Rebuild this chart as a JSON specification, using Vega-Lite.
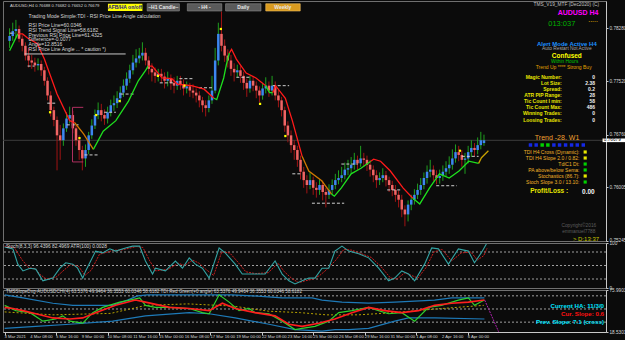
{
"$schema": "https://vega.github.io/schema/vega-lite/v6.json",
"padding": 0,
"spacing": 2,
"bounds": "flush",
"background": "#0b0b0b",
"config": {
  "font": "Liberation Sans",
  "view": {"stroke": "#707070", "fill": "#0b0b0b"},
  "axis": {"labelColor": "#d8d8d8", "labelFontSize": 4.7, "labelFont": "Liberation Sans", "tickColor": "#c8c8c8", "domainColor": "#c8c8c8", "grid": false, "title": null, "tickSize": 2, "labelPadding": 1, "labelOverlap": false}
},
"datasets": {
  "candles": [
{"i":0,"o":0.7810,"h":0.7828,"l":0.7800,"c":0.7817},
{"i":1,"o":0.7817,"h":0.7836,"l":0.7810,"c":0.7824},
{"i":2,"o":0.7824,"h":0.7840,"l":0.7815,"c":0.7827},
{"i":3,"o":0.7827,"h":0.7832,"l":0.7808,"c":0.7813},
{"i":4,"o":0.7813,"h":0.7818,"l":0.7795,"c":0.7803},
{"i":5,"o":0.7803,"h":0.7808,"l":0.7782,"c":0.7789},
{"i":6,"o":0.7789,"h":0.7800,"l":0.7772,"c":0.7782},
{"i":7,"o":0.7782,"h":0.7790,"l":0.7770,"c":0.7779},
{"i":8,"o":0.7779,"h":0.7786,"l":0.7766,"c":0.7775},
{"i":9,"o":0.7775,"h":0.7785,"l":0.7768,"c":0.7777},
{"i":10,"o":0.7777,"h":0.7782,"l":0.7760,"c":0.7768},
{"i":11,"o":0.7768,"h":0.7773,"l":0.7746,"c":0.7753},
{"i":12,"o":0.7753,"h":0.7758,"l":0.7725,"c":0.7732},
{"i":13,"o":0.7732,"h":0.7738,"l":0.7702,"c":0.7711},
{"i":14,"o":0.7711,"h":0.7716,"l":0.7688,"c":0.7697},
{"i":15,"o":0.7697,"h":0.7702,"l":0.7625,"c":0.7675},
{"i":16,"o":0.7675,"h":0.7690,"l":0.7640,"c":0.7668},
{"i":17,"o":0.7668,"h":0.7692,"l":0.7660,"c":0.7685},
{"i":18,"o":0.7685,"h":0.7708,"l":0.7680,"c":0.7699},
{"i":19,"o":0.7699,"h":0.7716,"l":0.7692,"c":0.7704},
{"i":20,"o":0.7704,"h":0.7710,"l":0.7678,"c":0.7685},
{"i":21,"o":0.7685,"h":0.7690,"l":0.7660,"c":0.7668},
{"i":22,"o":0.7668,"h":0.7675,"l":0.7640,"c":0.7654},
{"i":23,"o":0.7654,"h":0.7660,"l":0.7625,"c":0.7642},
{"i":24,"o":0.7642,"h":0.7662,"l":0.7630,"c":0.7654},
{"i":25,"o":0.7654,"h":0.7680,"l":0.7648,"c":0.7675},
{"i":26,"o":0.7675,"h":0.7698,"l":0.7670,"c":0.7689},
{"i":27,"o":0.7689,"h":0.7712,"l":0.7684,"c":0.7704},
{"i":28,"o":0.7704,"h":0.7722,"l":0.7698,"c":0.7711},
{"i":29,"o":0.7711,"h":0.7720,"l":0.7695,"c":0.7704},
{"i":30,"o":0.7704,"h":0.7712,"l":0.7690,"c":0.7699},
{"i":31,"o":0.7699,"h":0.7716,"l":0.7692,"c":0.7708},
{"i":32,"o":0.7708,"h":0.7726,"l":0.7702,"c":0.7718},
{"i":33,"o":0.7718,"h":0.7732,"l":0.7710,"c":0.7721},
{"i":34,"o":0.7721,"h":0.7738,"l":0.7714,"c":0.7728},
{"i":35,"o":0.7728,"h":0.7745,"l":0.7722,"c":0.7736},
{"i":36,"o":0.7736,"h":0.7755,"l":0.7730,"c":0.7746},
{"i":37,"o":0.7746,"h":0.7765,"l":0.7740,"c":0.7756},
{"i":38,"o":0.7756,"h":0.7776,"l":0.7750,"c":0.7768},
{"i":39,"o":0.7768,"h":0.7790,"l":0.7762,"c":0.7779},
{"i":40,"o":0.7779,"h":0.7798,"l":0.7772,"c":0.7785},
{"i":41,"o":0.7785,"h":0.7800,"l":0.7778,"c":0.7789},
{"i":42,"o":0.7789,"h":0.7808,"l":0.7782,"c":0.7793},
{"i":43,"o":0.7793,"h":0.7800,"l":0.7775,"c":0.7782},
{"i":44,"o":0.7782,"h":0.7788,"l":0.7762,"c":0.7770},
{"i":45,"o":0.7770,"h":0.7778,"l":0.7752,"c":0.7765},
{"i":46,"o":0.7765,"h":0.7772,"l":0.7750,"c":0.7760},
{"i":47,"o":0.7760,"h":0.7770,"l":0.7752,"c":0.7763},
{"i":48,"o":0.7763,"h":0.7770,"l":0.7750,"c":0.7759},
{"i":49,"o":0.7759,"h":0.7765,"l":0.7742,"c":0.7753},
{"i":50,"o":0.7753,"h":0.7766,"l":0.7745,"c":0.7756},
{"i":51,"o":0.7756,"h":0.7762,"l":0.7740,"c":0.7750},
{"i":52,"o":0.7750,"h":0.7758,"l":0.7735,"c":0.7746},
{"i":53,"o":0.7746,"h":0.7760,"l":0.7740,"c":0.7753},
{"i":54,"o":0.7753,"h":0.7760,"l":0.7740,"c":0.7748},
{"i":55,"o":0.7748,"h":0.7755,"l":0.7732,"c":0.7742},
{"i":56,"o":0.7742,"h":0.7752,"l":0.7735,"c":0.7745},
{"i":57,"o":0.7745,"h":0.7750,"l":0.7730,"c":0.7739},
{"i":58,"o":0.7739,"h":0.7748,"l":0.7728,"c":0.7736},
{"i":59,"o":0.7736,"h":0.7742,"l":0.7722,"c":0.7732},
{"i":60,"o":0.7732,"h":0.7738,"l":0.7715,"c":0.7725},
{"i":61,"o":0.7725,"h":0.7730,"l":0.7708,"c":0.7718},
{"i":62,"o":0.7718,"h":0.7725,"l":0.7702,"c":0.7714},
{"i":63,"o":0.7714,"h":0.7732,"l":0.7708,"c":0.7725},
{"i":64,"o":0.7725,"h":0.7760,"l":0.7720,"c":0.7739},
{"i":65,"o":0.7739,"h":0.7800,"l":0.7735,"c":0.7782},
{"i":66,"o":0.7782,"h":0.7836,"l":0.7775,"c":0.7820},
{"i":67,"o":0.7820,"h":0.7852,"l":0.7795,"c":0.7803},
{"i":68,"o":0.7803,"h":0.7812,"l":0.7780,"c":0.7789},
{"i":69,"o":0.7789,"h":0.7798,"l":0.7772,"c":0.7782},
{"i":70,"o":0.7782,"h":0.7790,"l":0.7760,"c":0.7770},
{"i":71,"o":0.7770,"h":0.7778,"l":0.7752,"c":0.7765},
{"i":72,"o":0.7765,"h":0.7776,"l":0.7758,"c":0.7768},
{"i":73,"o":0.7768,"h":0.7774,"l":0.7750,"c":0.7760},
{"i":74,"o":0.7760,"h":0.7766,"l":0.7740,"c":0.7750},
{"i":75,"o":0.7750,"h":0.7756,"l":0.7730,"c":0.7742},
{"i":76,"o":0.7742,"h":0.7760,"l":0.7736,"c":0.7753},
{"i":77,"o":0.7753,"h":0.7760,"l":0.7738,"c":0.7746},
{"i":78,"o":0.7746,"h":0.7752,"l":0.7728,"c":0.7739},
{"i":79,"o":0.7739,"h":0.7745,"l":0.7722,"c":0.7732},
{"i":80,"o":0.7732,"h":0.7750,"l":0.7726,"c":0.7742},
{"i":81,"o":0.7742,"h":0.7758,"l":0.7735,"c":0.7746},
{"i":82,"o":0.7746,"h":0.7752,"l":0.7730,"c":0.7739},
{"i":83,"o":0.7739,"h":0.7760,"l":0.7732,"c":0.7746},
{"i":84,"o":0.7746,"h":0.7752,"l":0.7725,"c":0.7732},
{"i":85,"o":0.7732,"h":0.7740,"l":0.7715,"c":0.7725},
{"i":86,"o":0.7725,"h":0.7730,"l":0.7702,"c":0.7711},
{"i":87,"o":0.7711,"h":0.7716,"l":0.7680,"c":0.7689},
{"i":88,"o":0.7689,"h":0.7695,"l":0.7665,"c":0.7675},
{"i":89,"o":0.7675,"h":0.7682,"l":0.7650,"c":0.7661},
{"i":90,"o":0.7661,"h":0.7668,"l":0.7640,"c":0.7654},
{"i":91,"o":0.7654,"h":0.7660,"l":0.7630,"c":0.7640},
{"i":92,"o":0.7640,"h":0.7646,"l":0.7612,"c":0.7623},
{"i":93,"o":0.7623,"h":0.7630,"l":0.7600,"c":0.7611},
{"i":94,"o":0.7611,"h":0.7618,"l":0.7592,"c":0.7604},
{"i":95,"o":0.7604,"h":0.7622,"l":0.7598,"c":0.7611},
{"i":96,"o":0.7611,"h":0.7616,"l":0.7590,"c":0.7600},
{"i":97,"o":0.7600,"h":0.7608,"l":0.7586,"c":0.7597},
{"i":98,"o":0.7597,"h":0.7612,"l":0.7590,"c":0.7604},
{"i":99,"o":0.7604,"h":0.7610,"l":0.7582,"c":0.7594},
{"i":100,"o":0.7594,"h":0.7600,"l":0.7572,"c":0.7590},
{"i":101,"o":0.7590,"h":0.7605,"l":0.7584,"c":0.7597},
{"i":102,"o":0.7597,"h":0.7612,"l":0.7590,"c":0.7604},
{"i":103,"o":0.7604,"h":0.7620,"l":0.7598,"c":0.7611},
{"i":104,"o":0.7611,"h":0.7625,"l":0.7605,"c":0.7614},
{"i":105,"o":0.7614,"h":0.7630,"l":0.7608,"c":0.7618},
{"i":106,"o":0.7618,"h":0.7636,"l":0.7612,"c":0.7626},
{"i":107,"o":0.7626,"h":0.7640,"l":0.7618,"c":0.7628},
{"i":108,"o":0.7628,"h":0.7644,"l":0.7620,"c":0.7633},
{"i":109,"o":0.7633,"h":0.7650,"l":0.7626,"c":0.7640},
{"i":110,"o":0.7640,"h":0.7646,"l":0.7626,"c":0.7635},
{"i":111,"o":0.7635,"h":0.7660,"l":0.7630,"c":0.7642},
{"i":112,"o":0.7642,"h":0.7650,"l":0.7630,"c":0.7640},
{"i":113,"o":0.7640,"h":0.7646,"l":0.7624,"c":0.7633},
{"i":114,"o":0.7633,"h":0.7640,"l":0.7616,"c":0.7626},
{"i":115,"o":0.7626,"h":0.7632,"l":0.7608,"c":0.7618},
{"i":116,"o":0.7618,"h":0.7625,"l":0.7600,"c":0.7611},
{"i":117,"o":0.7611,"h":0.7622,"l":0.7604,"c":0.7614},
{"i":118,"o":0.7614,"h":0.7628,"l":0.7608,"c":0.7618},
{"i":119,"o":0.7618,"h":0.7624,"l":0.7602,"c":0.7611},
{"i":120,"o":0.7611,"h":0.7616,"l":0.7594,"c":0.7604},
{"i":121,"o":0.7604,"h":0.7610,"l":0.7588,"c":0.7597},
{"i":122,"o":0.7597,"h":0.7604,"l":0.7580,"c":0.7590},
{"i":123,"o":0.7590,"h":0.7596,"l":0.7572,"c":0.7583},
{"i":124,"o":0.7583,"h":0.7590,"l":0.7558,"c":0.7569},
{"i":125,"o":0.7569,"h":0.7575,"l":0.7545,"c":0.7562},
{"i":126,"o":0.7562,"h":0.7582,"l":0.7552,"c":0.7576},
{"i":127,"o":0.7576,"h":0.7590,"l":0.7568,"c":0.7583},
{"i":128,"o":0.7583,"h":0.7598,"l":0.7576,"c":0.7590},
{"i":129,"o":0.7590,"h":0.7606,"l":0.7584,"c":0.7597},
{"i":130,"o":0.7597,"h":0.7614,"l":0.7590,"c":0.7604},
{"i":131,"o":0.7604,"h":0.7622,"l":0.7598,"c":0.7614},
{"i":132,"o":0.7614,"h":0.7632,"l":0.7606,"c":0.7623},
{"i":133,"o":0.7623,"h":0.7640,"l":0.7615,"c":0.7626},
{"i":134,"o":0.7626,"h":0.7632,"l":0.7610,"c":0.7618},
{"i":135,"o":0.7618,"h":0.7625,"l":0.7605,"c":0.7614},
{"i":136,"o":0.7614,"h":0.7626,"l":0.7606,"c":0.7617},
{"i":137,"o":0.7617,"h":0.7632,"l":0.7610,"c":0.7623},
{"i":138,"o":0.7623,"h":0.7638,"l":0.7616,"c":0.7628},
{"i":139,"o":0.7628,"h":0.7645,"l":0.7620,"c":0.7633},
{"i":140,"o":0.7633,"h":0.7655,"l":0.7626,"c":0.7642},
{"i":141,"o":0.7642,"h":0.7662,"l":0.7636,"c":0.7651},
{"i":142,"o":0.7651,"h":0.7660,"l":0.7638,"c":0.7647},
{"i":143,"o":0.7647,"h":0.7654,"l":0.7630,"c":0.7640},
{"i":144,"o":0.7640,"h":0.7650,"l":0.7620,"c":0.7642},
{"i":145,"o":0.7642,"h":0.7660,"l":0.7635,"c":0.7651},
{"i":146,"o":0.7651,"h":0.7668,"l":0.7644,"c":0.7657},
{"i":147,"o":0.7657,"h":0.7664,"l":0.7645,"c":0.7654},
{"i":148,"o":0.7654,"h":0.7672,"l":0.7648,"c":0.7661},
{"i":149,"o":0.7661,"h":0.7680,"l":0.7655,"c":0.7668},
{"i":150,"o":0.7664,"h":0.7676,"l":0.7660,"c":0.76679}
  ],
  "ma": [
{"s":1,"k":"up","i":0,"p":0.7796},{"s":1,"k":"up","i":2.6,"p":0.7820},
{"s":2,"k":"down","i":2.6,"p":0.7820},{"s":2,"k":"down","i":4.1,"p":0.7820},{"s":2,"k":"down","i":5.7,"p":0.7814},{"s":2,"k":"down","i":8.8,"p":0.7806},{"s":2,"k":"down","i":11.0,"p":0.7784},{"s":2,"k":"down","i":15.0,"p":0.7734},{"s":2,"k":"down","i":19.0,"p":0.7696},{"s":2,"k":"down","i":20.6,"p":0.7693},
{"s":3,"k":"flat","i":20.6,"p":0.7693},{"s":3,"k":"flat","i":23.4,"p":0.7677},{"s":3,"k":"flat","i":26.5,"p":0.7655},
{"s":4,"k":"up","i":26.5,"p":0.7655},{"s":4,"k":"up","i":29.6,"p":0.7681},{"s":4,"k":"up","i":33.6,"p":0.7696},{"s":4,"k":"up","i":37.6,"p":0.7724},{"s":4,"k":"up","i":40.7,"p":0.7753},{"s":4,"k":"up","i":42.9,"p":0.7767},{"s":4,"k":"up","i":43.8,"p":0.7774},
{"s":5,"k":"down","i":43.8,"p":0.7774},{"s":5,"k":"down","i":45.1,"p":0.7774},{"s":5,"k":"down","i":48.2,"p":0.7757},{"s":5,"k":"down","i":51.3,"p":0.7756},{"s":5,"k":"down","i":53.1,"p":0.7748},{"s":5,"k":"down","i":57.5,"p":0.7746},{"s":5,"k":"down","i":61.5,"p":0.7741},{"s":5,"k":"down","i":64.6,"p":0.7728},
{"s":6,"k":"up","i":64.6,"p":0.7728},{"s":6,"k":"up","i":65.5,"p":0.7726},{"s":6,"k":"up","i":67.7,"p":0.7757},{"s":6,"k":"up","i":68.6,"p":0.7777},{"s":6,"k":"up","i":69.5,"p":0.7793},
{"s":7,"k":"down","i":69.5,"p":0.7793},{"s":7,"k":"down","i":70.2,"p":0.7798},{"s":7,"k":"down","i":71.7,"p":0.7784},{"s":7,"k":"down","i":74.8,"p":0.7764},{"s":7,"k":"down","i":77.9,"p":0.7757},{"s":7,"k":"down","i":81.0,"p":0.7746},
{"s":8,"k":"up","i":81.0,"p":0.7746},{"s":8,"k":"up","i":82.2,"p":0.7736},{"s":8,"k":"up","i":83.2,"p":0.7736},
{"s":9,"k":"down","i":83.2,"p":0.7736},{"s":9,"k":"down","i":84.1,"p":0.7746},{"s":9,"k":"down","i":87.2,"p":0.7728},{"s":9,"k":"down","i":89.4,"p":0.7696},{"s":9,"k":"down","i":92.5,"p":0.7645},
{"s":10,"k":"flat","i":92.5,"p":0.7645},{"s":10,"k":"flat","i":94.6,"p":0.7624},{"s":10,"k":"flat","i":98.7,"p":0.7610},{"s":10,"k":"flat","i":101.8,"p":0.7591},
{"s":11,"k":"up","i":101.8,"p":0.7591},{"s":11,"k":"up","i":102.7,"p":0.7588},{"s":11,"k":"up","i":104.9,"p":0.7600},{"s":11,"k":"up","i":108.0,"p":0.7620},{"s":11,"k":"up","i":111.1,"p":0.7628},{"s":11,"k":"up","i":114.2,"p":0.7638},
{"s":12,"k":"down","i":114.2,"p":0.7638},{"s":12,"k":"down","i":115.1,"p":0.7641},{"s":12,"k":"down","i":117.3,"p":0.7638},{"s":12,"k":"down","i":120.4,"p":0.7624},{"s":12,"k":"down","i":124.4,"p":0.7600},{"s":12,"k":"down","i":127.5,"p":0.7585},
{"s":13,"k":"up","i":127.5,"p":0.7585},{"s":13,"k":"up","i":129.7,"p":0.7577},{"s":13,"k":"up","i":132.8,"p":0.7600},{"s":13,"k":"up","i":135.9,"p":0.7620},{"s":13,"k":"up","i":139.0,"p":0.7614},{"s":13,"k":"up","i":142.1,"p":0.7624},{"s":13,"k":"up","i":145.2,"p":0.7638},{"s":13,"k":"up","i":148.3,"p":0.7635},
{"s":14,"k":"end","i":148.3,"p":0.7635},{"s":14,"k":"end","i":149.2,"p":0.7643},{"s":14,"k":"end","i":151.4,"p":0.7653}
  ],
  "stochMain": [
{"i":0,"v":91},{"i":2.6,"v":87},{"i":4.1,"v":53},{"i":5.7,"v":38},{"i":7.9,"v":44},{"i":9.7,"v":42},{"i":11.9,"v":16},{"i":15,"v":22},{"i":17.2,"v":44},{"i":19,"v":56},{"i":21.2,"v":53},{"i":22.7,"v":44},{"i":24.3,"v":22},{"i":25.2,"v":38},{"i":28.3,"v":82},{"i":30.5,"v":78},{"i":32.7,"v":87},{"i":34.5,"v":82},{"i":37.6,"v":89},{"i":39.8,"v":93},{"i":42,"v":93},{"i":43.8,"v":60},{"i":46,"v":31},{"i":46.9,"v":44},{"i":50,"v":38},{"i":53.1,"v":60},{"i":55.3,"v":44},{"i":57.4,"v":67},{"i":59.3,"v":53},{"i":61.5,"v":44},{"i":63.6,"v":22},{"i":66.7,"v":89},{"i":68.6,"v":78},{"i":71.7,"v":53},{"i":73.9,"v":31},{"i":77,"v":31},{"i":81,"v":31},{"i":84.1,"v":60},{"i":86.3,"v":31},{"i":88.4,"v":16},{"i":90.3,"v":9},{"i":92.5,"v":16},{"i":94.6,"v":22},{"i":96.5,"v":22},{"i":98.7,"v":44},{"i":100.8,"v":44},{"i":102.7,"v":82},{"i":104.9,"v":93},{"i":107,"v":82},{"i":110.1,"v":76},{"i":113.2,"v":67},{"i":116.3,"v":44},{"i":119.4,"v":16},{"i":121.3,"v":22},{"i":123.5,"v":38},{"i":125.6,"v":31},{"i":127.5,"v":16},{"i":130.6,"v":53},{"i":132.8,"v":89},{"i":134.9,"v":87},{"i":138,"v":53},{"i":141.1,"v":87},{"i":144.2,"v":82},{"i":146.1,"v":56},{"i":148.2,"v":78},{"i":149.8,"v":98}
  ],
  "stochSig": [
{"i":0,"v":93},{"i":3,"v":90},{"i":5.5,"v":62},{"i":7.5,"v":45},{"i":9.5,"v":43},{"i":11,"v":30},{"i":13,"v":20},{"i":16,"v":24},{"i":18.5,"v":40},{"i":20.5,"v":52},{"i":23,"v":48},{"i":25,"v":28},{"i":27,"v":40},{"i":29.5,"v":75},{"i":32,"v":80},{"i":34,"v":84},{"i":36,"v":84},{"i":38.5,"v":88},{"i":41,"v":92},{"i":43,"v":90},{"i":45,"v":62},{"i":47,"v":38},{"i":49,"v":40},{"i":51,"v":42},{"i":54,"v":55},{"i":56,"v":50},{"i":58.5,"v":62},{"i":60.5,"v":55},{"i":62.5,"v":42},{"i":65,"v":28},{"i":67.5,"v":80},{"i":70,"v":78},{"i":72.5,"v":58},{"i":75,"v":36},{"i":78,"v":32},{"i":82,"v":34},{"i":85,"v":55},{"i":87,"v":36},{"i":89.5,"v":20},{"i":91.5,"v":12},{"i":93.5,"v":16},{"i":96,"v":20},{"i":98,"v":28},{"i":100,"v":40},{"i":103,"v":62},{"i":105.5,"v":86},{"i":108,"v":84},{"i":111,"v":76},{"i":114,"v":68},{"i":117,"v":48},{"i":120,"v":22},{"i":122,"v":20},{"i":124.5,"v":34},{"i":126.5,"v":28},{"i":128.5,"v":22},{"i":131,"v":45},{"i":133.5,"v":80},{"i":136,"v":86},{"i":139,"v":60},{"i":142,"v":78},{"i":145,"v":80},{"i":147,"v":62},{"i":149,"v":72},{"i":150,"v":88}
  ],
  "tdiUpper": [
{"i":0,"v":69.4},{"i":5.7,"v":65.1},{"i":15,"v":57.9},{"i":21.2,"v":55},{"i":33.6,"v":55},{"i":38.2,"v":62.2},{"i":41.3,"v":68},{"i":44.4,"v":69.4},{"i":70.8,"v":69.4},{"i":77,"v":68},{"i":86.3,"v":65.1},{"i":95.6,"v":65.1},{"i":98.7,"v":62.2},{"i":104.9,"v":59.4},{"i":113.2,"v":57.9},{"i":121.3,"v":59.4},{"i":133.7,"v":62.2},{"i":139,"v":65.1},{"i":149.2,"v":65.1}
  ],
  "tdiLower": [
{"i":0,"v":23.4},{"i":9.7,"v":26.2},{"i":20.3,"v":29.1},{"i":33.6,"v":33.4},{"i":43.8,"v":40.6},{"i":57.4,"v":45},{"i":63.6,"v":43.5},{"i":71.7,"v":37.8},{"i":82.2,"v":29.1},{"i":90.3,"v":21.9},{"i":98.7,"v":19.6},{"i":102.7,"v":21.9},{"i":107,"v":21.9},{"i":113.2,"v":23.4},{"i":121.3,"v":33.4},{"i":125.6,"v":37.8},{"i":133.7,"v":37.8},{"i":149.2,"v":36.3}
  ],
  "tdiMid": [
{"i":0,"v":46},{"i":15,"v":42},{"i":33,"v":44},{"i":44,"v":55},{"i":57,"v":57},{"i":71,"v":54},{"i":82,"v":47},{"i":92,"v":45},{"i":100,"v":42},{"i":110,"v":42},{"i":121,"v":45},{"i":134,"v":50},{"i":149,"v":55}
  ],
  "tdiRed": [
{"i":0,"v":52.2},{"i":2.6,"v":50.7},{"i":5.7,"v":47.8},{"i":9.7,"v":43.5},{"i":15,"v":37.8},{"i":20.3,"v":36.3},{"i":24.3,"v":37.8},{"i":28.3,"v":45},{"i":34.5,"v":55},{"i":40.7,"v":62.2},{"i":43.8,"v":59.4},{"i":51.3,"v":52.2},{"i":57.4,"v":50.7},{"i":63.6,"v":47.8},{"i":67.7,"v":57.9},{"i":71.7,"v":50.7},{"i":77.9,"v":45},{"i":84.1,"v":40.6},{"i":88.4,"v":29.1},{"i":92.5,"v":26.2},{"i":97.7,"v":30.6},{"i":102.7,"v":36.3},{"i":108,"v":45},{"i":113.2,"v":52.2},{"i":118.2,"v":47.8},{"i":123.5,"v":45},{"i":128.7,"v":47.8},{"i":133.7,"v":55},{"i":139,"v":57.9},{"i":144.2,"v":59.4},{"i":149.2,"v":62.2}
  ],
  "tdiGreen": [
{"i":0,"v":55},{"i":3.5,"v":47.8},{"i":7.9,"v":45},{"i":11.9,"v":33.4},{"i":15.9,"v":36.3},{"i":18.1,"v":40.6},{"i":20.3,"v":33.4},{"i":24.3,"v":30.6},{"i":27.4,"v":45},{"i":30.5,"v":52.2},{"i":35.8,"v":59.4},{"i":38.9,"v":62.2},{"i":42,"v":65.1},{"i":43.8,"v":55},{"i":46.9,"v":52.2},{"i":51.3,"v":52.2},{"i":57.4,"v":50.7},{"i":61.5,"v":45},{"i":63.6,"v":43.5},{"i":66.7,"v":69.4},{"i":69.8,"v":59.4},{"i":72.9,"v":47.8},{"i":76,"v":50.7},{"i":77.9,"v":45},{"i":82.2,"v":43.5},{"i":86.3,"v":33.4},{"i":90.3,"v":21.9},{"i":92.5,"v":23.4},{"i":96.5,"v":26.2},{"i":100.8,"v":33.4},{"i":103.9,"v":45},{"i":108,"v":47.8},{"i":113.2,"v":52.2},{"i":116.3,"v":47.8},{"i":119.4,"v":43.5},{"i":123.5,"v":45},{"i":127.5,"v":33.4},{"i":131.8,"v":52.2},{"i":135.8,"v":55},{"i":141.1,"v":62.2},{"i":144.2,"v":65.1},{"i":146.1,"v":55},{"i":149.2,"v":62.2}
  ],
  "timeLabels": [
{"i":0,"t":"3 Mar 2021"},{"i":8,"t":"4 Mar 08:00"},{"i":16,"t":"5 Mar 16:00"},{"i":24,"t":"9 Mar 00:00"},{"i":32,"t":"10 Mar 08:00"},{"i":40,"t":"11 Mar 16:00"},{"i":48,"t":"15 Mar 00:00"},{"i":56,"t":"16 Mar 08:00"},{"i":64,"t":"17 Mar 16:00"},{"i":72,"t":"19 Mar 00:00"},{"i":80,"t":"22 Mar 08:00"},{"i":88,"t":"23 Mar 16:00"},{"i":96,"t":"25 Mar 00:00"},{"i":104,"t":"26 Mar 08:00"},{"i":112,"t":"29 Mar 16:00"},{"i":120,"t":"31 Mar 00:00"},{"i":128,"t":"1 Apr 08:00"},{"i":136,"t":"2 Apr 16:00"},{"i":144,"t":"6 Apr 00:00"}
  ]
},
"vconcat": [
{
  "width": 603, "height": 240,
  "layer": [
    {"data": {"values": [{"p": 0.76679}]}, "mark": {"type": "rule", "color": "#3c3c3c", "strokeWidth": 1},
     "encoding": {"y": {"field": "p", "type": "quantitative", "scale": {"domain": [0.7524, 0.7867], "nice": false, "zero": false},
       "axis": {"orient": "right", "values": [0.7847,0.7828,0.7809,0.7790,0.7771,0.7752,0.7733,0.7714,0.7695,0.7676,0.7657,0.7638,0.7619,0.76005,0.75815,0.75625,0.75435,0.75245], "labelExpr": "format(datum.value, '.5f')"}}}},
    {"data": {"name": "candles"}, "mark": {"type": "rule", "strokeWidth": 1},
     "encoding": {"x": {"field": "i", "type": "quantitative", "scale": {"domain": [-0.5, 187], "nice": false, "zero": false}, "axis": null},
       "y": {"field": "l", "type": "quantitative"}, "y2": {"field": "h"},
       "color": {"condition": {"test": "datum.c >= datum.o", "value": "#1f9f1f"}, "value": "#a01414"}}},
    {"data": {"name": "candles"}, "mark": {"type": "bar", "size": 2.5},
     "encoding": {"x": {"field": "i", "type": "quantitative"}, "y": {"field": "o", "type": "quantitative"}, "y2": {"field": "c"},
       "color": {"condition": {"test": "datum.c >= datum.o", "value": "#3d86f0"}, "value": "#f06464"}}},
    {"data": {"values": [
      {"i1":5.7,"i2":7.9,"p":0.7774},{"i1":11.9,"i2":15.0,"p":0.7721},{"i1":18.1,"i2":21.8,"p":0.7690},{"i1":23.7,"i2":28.0,"p":0.7647},{"i1":29.9,"i2":33.6,"p":0.7708},{"i1":35.1,"i2":39.2,"p":0.7734},{"i1":47.5,"i2":52.2,"p":0.7750},{"i1":53.7,"i2":58.4,"p":0.7756},{"i1":59.9,"i2":64.6,"p":0.7743},{"i1":71.7,"i2":76.1,"p":0.7758},{"i1":83.2,"i2":88.4,"p":0.7746},{"i1":89.4,"i2":92.5,"p":0.7620},{"i1":95.6,"i2":105.8,"p":0.7578},{"i1":104.9,"i2":110.1,"p":0.7634},{"i1":119.4,"i2":123.5,"p":0.7597},{"i1":134.9,"i2":141.4,"p":0.7603},{"i1":143.0,"i2":148.3,"p":0.7645},{"i1":0,"i2":1.7,"p":0.7821}]},
     "mark": {"type": "rule", "color": "#d0d0d0", "strokeDash": [3, 2], "strokeWidth": 1},
     "encoding": {"x": {"field": "i1", "type": "quantitative"}, "x2": {"field": "i2"}, "y": {"field": "p", "type": "quantitative"}}},
    {"data": {"values": [{"i1":19.9,"i2":23.3,"p":0.7715},{"i1":19.9,"i2":23.3,"p":0.7637}]},
     "mark": {"type": "rule", "color": "#b03060", "strokeWidth": 1},
     "encoding": {"x": {"field": "i1", "type": "quantitative"}, "x2": {"field": "i2"}, "y": {"field": "p", "type": "quantitative"}}},
    {"data": {"values": [{"i":19.9,"p1":0.7715,"p2":0.7637}]},
     "mark": {"type": "rule", "color": "#b03060", "strokeWidth": 1},
     "encoding": {"x": {"field": "i", "type": "quantitative"}, "y": {"field": "p1", "type": "quantitative"}, "y2": {"field": "p2"}}},
    {"data": {"name": "ma"}, "mark": {"type": "line", "strokeWidth": 1.3},
     "encoding": {"x": {"field": "i", "type": "quantitative"}, "y": {"field": "p", "type": "quantitative"}, "detail": {"field": "s"},
       "color": {"field": "k", "type": "nominal", "scale": {"domain": ["up","down","flat","end"], "range": ["#1ee01e","#ff1a1a","#d07800","#c8a000"]}, "legend": null}}},
    {"data": {"values": [{"i":12.8,"p":0.7708},{"i":22.1,"p":0.7671},{"i":27.4,"p":0.7704},{"i":34.8,"p":0.7724},{"i":46.9,"p":0.7760},{"i":55.3,"p":0.7746},{"i":66.8,"p":0.7827},{"i":79.2,"p":0.7720},{"i":87.2,"p":0.7674},{"i":142.4,"p":0.7653}]},
     "mark": {"type": "point", "shape": "square", "filled": true, "size": 5, "color": "#ffff00", "opacity": 1},
     "encoding": {"x": {"field": "i", "type": "quantitative"}, "y": {"field": "p", "type": "quantitative"}}},
    {"data": {"values": [{"i1":43.5,"i2":53.7,"p1":0.78631,"p2":0.78527},{"i1":56.2,"i2":67.1,"p1":0.78631,"p2":0.78527},{"i1":68.3,"i2":79.5,"p1":0.78631,"p2":0.78527}]},
     "mark": {"type": "rect", "fill": "#5a5a5a", "stroke": "#8c8c8c", "strokeWidth": 0.6},
     "encoding": {"x": {"field": "i1", "type": "quantitative"}, "x2": {"field": "i2"}, "y": {"field": "p1", "type": "quantitative"}, "y2": {"field": "p2"}}},
    {"data": {"values": [{"i1":31.1,"i2":42.0,"p1":0.78631,"p2":0.78527}]},
     "mark": {"type": "rect", "fill": "#ffff00"},
     "encoding": {"x": {"field": "i1", "type": "quantitative"}, "x2": {"field": "i2"}, "y": {"field": "p1", "type": "quantitative"}, "y2": {"field": "p2"}}},
    {"data": {"values": [{"i1":81.0,"i2":91.9,"p1":0.78631,"p2":0.78527}]},
     "mark": {"type": "rect", "fill": "#d99a1e", "stroke": "#f0c060", "strokeWidth": 0.6},
     "encoding": {"x": {"field": "i1", "type": "quantitative"}, "x2": {"field": "i2"}, "y": {"field": "p1", "type": "quantitative"}, "y2": {"field": "p2"}}},
    {"data": {"values": [{"i":36.5,"p":0.78579,"t":"AFB/HA on/off"}]},
     "mark": {"type": "text", "align": "center", "baseline": "middle", "fontSize": 5, "fontWeight": "bold", "color": "#1a1a80"},
     "encoding": {"x": {"field": "i", "type": "quantitative"}, "y": {"field": "p", "type": "quantitative"}, "text": {"field": "t"}}},
    {"data": {"values": [{"i":48.6,"p":0.78579,"t":"~H1 Candle~"},{"i":61.6,"p":0.78579,"t":"- H4 -"},{"i":73.9,"p":0.78579,"t":"Daily"},{"i":86.4,"p":0.78579,"t":"Weekly"}]},
     "mark": {"type": "text", "align": "center", "baseline": "middle", "fontSize": 5, "fontWeight": "bold", "color": "#e6e6e6"},
     "encoding": {"x": {"field": "i", "type": "quantitative"}, "y": {"field": "p", "type": "quantitative"}, "text": {"field": "t"}}},
    {"data": {"values": [
      {"i":0.1,"p":0.78599,"t":"AUDUSD,H4 0.76688 0.76682 0.76652 0.76679"}]},
     "mark": {"type": "text", "align": "left", "baseline": "middle", "fontSize": 4.2, "color": "#d8d8d8"},
     "encoding": {"x": {"field": "i", "type": "quantitative"}, "y": {"field": "p", "type": "quantitative"}, "text": {"field": "t"}}},
    {"data": {"values": [
      {"i":6.0,"p":0.78456,"t":"Trading Mode Simple:TDI - RSI Price Line Angle calculation"},
      {"i":6.0,"p":0.78327,"t":"RSI Price Line=60.0346"},
      {"i":6.0,"p":0.78256,"t":"RSI Trend Signal Line=58.6182"},
      {"i":6.0,"p":0.78191,"t":"Previous RSI Price Line=61.4325"},
      {"i":6.0,"p":0.78127,"t":"Difference=-0.0077"},
      {"i":6.0,"p":0.78055,"t":"Angle=12.8516"},
      {"i":6.0,"p":0.77984,"t":"RSI Price Line Angle ... * caution *)"}]},
     "mark": {"type": "text", "align": "left", "baseline": "middle", "fontSize": 5, "color": "#d8d8d8"},
     "encoding": {"x": {"field": "i", "type": "quantitative"}, "y": {"field": "p", "type": "quantitative"}, "text": {"field": "t"}}},
    {"data": {"values": [{"i1":4.8,"i2":36.7,"p":0.77913}]},
     "mark": {"type": "rule", "color": "#c8c8c8", "strokeWidth": 1},
     "encoding": {"x": {"field": "i1", "type": "quantitative"}, "x2": {"field": "i2"}, "y": {"field": "p", "type": "quantitative"}}},
    {"data": {"values": [{"i":186.4,"p":0.78606,"t":"TMS_V19_MTF (Dec2020) (C)"}]},
     "mark": {"type": "text", "align": "right", "baseline": "middle", "fontSize": 4.8, "color": "#c0c0c0"},
     "encoding": {"x": {"field": "i", "type": "quantitative"}, "y": {"field": "p", "type": "quantitative"}, "text": {"field": "t"}}},
    {"data": {"values": [{"i":186.2,"p":0.78499,"t":"AUDUSD H4"}]},
     "mark": {"type": "text", "align": "right", "baseline": "middle", "fontSize": 7, "fontWeight": "bold", "color": "#ff00ff"},
     "encoding": {"x": {"field": "i", "type": "quantitative"}, "y": {"field": "p", "type": "quantitative"}, "text": {"field": "t"}}},
    {"data": {"values": [{"i":174.6,"p":0.78341,"t":"013:037"}]},
     "mark": {"type": "text", "align": "center", "baseline": "middle", "fontSize": 7.5, "color": "#00b400"},
     "encoding": {"x": {"field": "i", "type": "quantitative"}, "y": {"field": "p", "type": "quantitative"}, "text": {"field": "t"}}},
    {"data": {"values": [{"i":184.5,"p":0.78400,"t":"....."}]},
     "mark": {"type": "text", "align": "center", "baseline": "middle", "fontSize": 7, "color": "#ffc800"},
     "encoding": {"x": {"field": "i", "type": "quantitative"}, "y": {"field": "p", "type": "quantitative"}, "text": {"field": "t"}}},
    {"data": {"values": [{"i":176.2,"p":0.78055,"t":"Alert Mode Active H4"}]},
     "mark": {"type": "text", "align": "center", "baseline": "middle", "fontSize": 6, "fontWeight": "bold", "color": "#1e90ff"},
     "encoding": {"x": {"field": "i", "type": "quantitative"}, "y": {"field": "p", "type": "quantitative"}, "text": {"field": "t"}}},
    {"data": {"values": [{"i":176.2,"p":0.77984,"t":"Auto Restart Not Active"}]},
     "mark": {"type": "text", "align": "center", "baseline": "middle", "fontSize": 4.8, "color": "#a8a8a8"},
     "encoding": {"x": {"field": "i", "type": "quantitative"}, "y": {"field": "p", "type": "quantitative"}, "text": {"field": "t"}}},
    {"data": {"values": [{"i":176.2,"p":0.77884,"t":"Confused"}]},
     "mark": {"type": "text", "align": "center", "baseline": "middle", "fontSize": 6.5, "fontWeight": "bold", "color": "#ffff00"},
     "encoding": {"x": {"field": "i", "type": "quantitative"}, "y": {"field": "p", "type": "quantitative"}, "text": {"field": "t"}}},
    {"data": {"values": [{"i":175.5,"p":0.77798,"t":"Within Hours"}]},
     "mark": {"type": "text", "align": "center", "baseline": "middle", "fontSize": 4.8, "color": "#00c800"},
     "encoding": {"x": {"field": "i", "type": "quantitative"}, "y": {"field": "p", "type": "quantitative"}, "text": {"field": "t"}}},
    {"data": {"values": [{"i":175.2,"p":0.77727,"t":"Trend Up **** Strong Buy"}]},
     "mark": {"type": "text", "align": "center", "baseline": "middle", "fontSize": 5, "color": "#e0a000"},
     "encoding": {"x": {"field": "i", "type": "quantitative"}, "y": {"field": "p", "type": "quantitative"}, "text": {"field": "t"}}},
    {"data": {"values": [{"i":174.6,"p":0.77584,"t":"Magic Number:"},{"i":174.6,"p":0.77498,"t":"Lot Size:"},{"i":174.6,"p":0.77412,"t":"Spread:"},{"i":174.6,"p":0.77327,"t":"ATR PIP Range:"},{"i":174.6,"p":0.77241,"t":"Tic Count I min:"},{"i":174.6,"p":0.77155,"t":"Tic Count Max:"},{"i":174.6,"p":0.77069,"t":"Winning Trades:"},{"i":174.6,"p":0.76969,"t":"Loosing Trades:"}]},
     "mark": {"type": "text", "align": "right", "baseline": "middle", "fontSize": 5, "fontWeight": "bold", "color": "#e6e600"},
     "encoding": {"x": {"field": "i", "type": "quantitative"}, "y": {"field": "p", "type": "quantitative"}, "text": {"field": "t"}}},
    {"data": {"values": [{"i":185.1,"p":0.77584,"t":"0"},{"i":185.1,"p":0.77498,"t":"2.38"},{"i":185.1,"p":0.77412,"t":"0.2"},{"i":185.1,"p":0.77327,"t":"28"},{"i":185.1,"p":0.77241,"t":"58"},{"i":185.1,"p":0.77155,"t":"486"},{"i":185.1,"p":0.77069,"t":"0"},{"i":185.1,"p":0.76969,"t":"0"}]},
     "mark": {"type": "text", "align": "right", "baseline": "middle", "fontSize": 5, "fontWeight": "bold", "color": "#f0f0f0"},
     "encoding": {"x": {"field": "i", "type": "quantitative"}, "y": {"field": "p", "type": "quantitative"}, "text": {"field": "t"}}},
    {"data": {"values": [{"i":173.1,"p":0.76712,"t":"Trend -28. W1"}]},
     "mark": {"type": "text", "align": "center", "baseline": "middle", "fontSize": 7, "color": "#f0a030"},
     "encoding": {"x": {"field": "i", "type": "quantitative"}, "y": {"field": "p", "type": "quantitative"}, "text": {"field": "t"}}},
    {"data": {"values": [{"i":164.7,"p":0.76612,"s":"dn"},{"i":166.5,"p":0.76612,"s":"dn"},{"i":168.4,"p":0.76612,"s":"up"},{"i":170.2,"p":0.76612,"s":"up"},{"i":172.1,"p":0.76612,"s":"dn"},{"i":173.9,"p":0.76612,"s":"dn"},{"i":175.8,"p":0.76612,"s":"dn"},{"i":177.7,"p":0.76612,"s":"dn"},{"i":179.5,"p":0.76612,"s":"dn"},{"i":181.4,"p":0.76612,"s":"dn"}]},
     "mark": {"type": "point", "shape": "square", "filled": true, "size": 12, "opacity": 1},
     "encoding": {"x": {"field": "i", "type": "quantitative"}, "y": {"field": "p", "type": "quantitative"},
       "color": {"condition": {"test": "datum.s == 'up'", "value": "#00d000"}, "value": "#1428e6"}}},
    {"data": {"values": [{"i":180.2,"p":0.76512,"t":"TDI H4 Cross (Dynamic):"},{"i":180.2,"p":0.76426,"t":"TDI H4 Slope 2.0 / 0.82:"},{"i":180.2,"p":0.76340,"t":"TdiC1 Dt:"},{"i":180.2,"p":0.76255,"t":"PA above/below Sema:"},{"i":180.2,"p":0.76169,"t":"Stochastics (86.7):"},{"i":180.2,"p":0.76083,"t":"Stoch Slope 3.0 / 13.10:"}]},
     "mark": {"type": "text", "align": "right", "baseline": "middle", "fontSize": 5, "color": "#f0b428"},
     "encoding": {"x": {"field": "i", "type": "quantitative"}, "y": {"field": "p", "type": "quantitative"}, "text": {"field": "t"}}},
    {"data": {"values": [{"i":182.0,"p":0.76512,"s":"y"},{"i":182.0,"p":0.76426,"s":"y"},{"i":182.0,"p":0.76340,"s":"g"},{"i":182.0,"p":0.76255,"s":"g"},{"i":182.0,"p":0.76169,"s":"y"},{"i":182.0,"p":0.76083,"s":"g"}]},
     "mark": {"type": "point", "shape": "square", "filled": true, "size": 10, "opacity": 1},
     "encoding": {"x": {"field": "i", "type": "quantitative"}, "y": {"field": "p", "type": "quantitative"},
       "color": {"condition": {"test": "datum.s == 'g'", "value": "#00d000"}, "value": "#e6e600"}}},
    {"data": {"values": [{"i":170.6,"p":0.75955,"t":"Profit/Loss :"}]},
     "mark": {"type": "text", "align": "center", "baseline": "middle", "fontSize": 6.5, "fontWeight": "bold", "color": "#e6e600"},
     "encoding": {"x": {"field": "i", "type": "quantitative"}, "y": {"field": "p", "type": "quantitative"}, "text": {"field": "t"}}},
    {"data": {"values": [{"i":183.0,"p":0.75940,"t":"0.00"}]},
     "mark": {"type": "text", "align": "center", "baseline": "middle", "fontSize": 6.5, "fontWeight": "bold", "color": "#f4f4f4"},
     "encoding": {"x": {"field": "i", "type": "quantitative"}, "y": {"field": "p", "type": "quantitative"}, "text": {"field": "t"}}},
    {"data": {"values": [{"i":180.0,"p":0.75455,"t":"Copyright\u00a92016"},{"i":180.0,"p":0.75375,"t":"emmanuel7788"}]},
     "mark": {"type": "text", "align": "center", "baseline": "middle", "fontSize": 4.8, "color": "#5e5e5e"},
     "encoding": {"x": {"field": "i", "type": "quantitative"}, "y": {"field": "p", "type": "quantitative"}, "text": {"field": "t"}}},
    {"data": {"values": [{"i":186.4,"p":0.75272,"t":">  D:13:37"}]},
     "mark": {"type": "text", "align": "right", "baseline": "middle", "fontSize": 6, "color": "#c8c800"},
     "encoding": {"x": {"field": "i", "type": "quantitative"}, "y": {"field": "p", "type": "quantitative"}, "text": {"field": "t"}}},
    {"data": {"values": [{"i1":187.5,"i2":194.8,"p1":0.76705,"p2":0.76653}]},
     "mark": {"type": "rect", "fill": "#ffffff"},
     "encoding": {"x": {"field": "i1", "type": "quantitative"}, "x2": {"field": "i2"}, "y": {"field": "p1", "type": "quantitative"}, "y2": {"field": "p2"}}},
    {"data": {"values": [{"i":187.9,"p":0.76679,"t":"0.76679"}]},
     "mark": {"type": "text", "align": "left", "baseline": "middle", "fontSize": 4.7, "color": "#000000"},
     "encoding": {"x": {"field": "i", "type": "quantitative"}, "y": {"field": "p", "type": "quantitative"}, "text": {"field": "t"}}}
  ]
},
{
  "width": 603, "height": 45,
  "layer": [
    {"data": {"values": [{"v": 80}, {"v": 50}, {"v": 20}]}, "mark": {"type": "rule", "color": "#a0a0a0", "strokeDash": [2, 2], "strokeWidth": 1},
     "encoding": {"y": {"field": "v", "type": "quantitative", "scale": {"domain": [0, 100], "nice": false, "zero": false},
       "axis": {"orient": "right", "values": [100, 80, 50, 20, 0]}}}},
    {"data": {"name": "stochSig"}, "mark": {"type": "line", "color": "#c81e1e", "strokeWidth": 1, "strokeDash": [2, 1]},
     "encoding": {"x": {"field": "i", "type": "quantitative", "scale": {"domain": [-0.5, 187], "nice": false, "zero": false}, "axis": null},
       "y": {"field": "v", "type": "quantitative"}}},
    {"data": {"name": "stochMain"}, "mark": {"type": "line", "color": "#33a3a3", "strokeWidth": 1.1},
     "encoding": {"x": {"field": "i", "type": "quantitative"}, "y": {"field": "v", "type": "quantitative"}}},
    {"data": {"values": [{"i":0.4,"v":91,"t":"Stoch(8,3,3) 96.4396 82.4969  ATR(100) 0.0028"}]},
     "mark": {"type": "text", "align": "left", "baseline": "middle", "fontSize": 4.8, "color": "#d8d8d8"},
     "encoding": {"x": {"field": "i", "type": "quantitative"}, "y": {"field": "v", "type": "quantitative"}, "text": {"field": "t"}}}
  ]
},
{
  "width": 603, "height": 42,
  "layer": [
    {"data": {"values": [{"v": 68}, {"v": 50}, {"v": 32}]}, "mark": {"type": "rule", "color": "#a0a0a0", "strokeDash": [2, 2], "strokeWidth": 1},
     "encoding": {"y": {"field": "v", "type": "quantitative", "scale": {"domain": [18.5301, 75.9903], "nice": false, "zero": false},
       "axis": {"orient": "right", "values": [75.9903, 68, 50, 32, 18.5301], "labelExpr": "(datum.value > 75 || datum.value < 19) ? format(datum.value, '.4f') : format(datum.value, 'd')"}}}},
    {"data": {"name": "tdiUpper"}, "mark": {"type": "line", "color": "#1e7ab8", "strokeWidth": 1.2},
     "encoding": {"x": {"field": "i", "type": "quantitative", "scale": {"domain": [-0.5, 187], "nice": false, "zero": false},
       "axis": {"orient": "bottom", "values": [0,8,16,24,32,40,48,56,64,72,80,88,96,104,112,120,128,136,144], "labels": false, "tickSize": 3}},
       "y": {"field": "v", "type": "quantitative"}}},
    {"data": {"name": "timeLabels"}, "mark": {"type": "text", "align": "left", "baseline": "top", "fontSize": 4.2, "color": "#d8d8d8", "dy": 3},
     "encoding": {"x": {"field": "i", "type": "quantitative"}, "y": {"datum": 18.5301, "type": "quantitative"}, "text": {"field": "t"}}},
    {"data": {"name": "tdiLower"}, "mark": {"type": "line", "color": "#1e7ab8", "strokeWidth": 1.2},
     "encoding": {"x": {"field": "i", "type": "quantitative"}, "y": {"field": "v", "type": "quantitative"}}},
    {"data": {"name": "tdiMid"}, "mark": {"type": "line", "color": "#b4a000", "strokeWidth": 1, "strokeDash": [2, 2]},
     "encoding": {"x": {"field": "i", "type": "quantitative"}, "y": {"field": "v", "type": "quantitative"}}},
    {"data": {"name": "tdiGreen"}, "mark": {"type": "line", "color": "#2ed02e", "strokeWidth": 1.2},
     "encoding": {"x": {"field": "i", "type": "quantitative"}, "y": {"field": "v", "type": "quantitative"}}},
    {"data": {"name": "tdiRed"}, "mark": {"type": "line", "color": "#ff1e1e", "strokeWidth": 1.6},
     "encoding": {"x": {"field": "i", "type": "quantitative"}, "y": {"field": "v", "type": "quantitative"}}},
    {"data": {"values": [{"i":149.3,"v":62},{"i":153.6,"v":19}]}, "mark": {"type": "line", "color": "#b020b0", "strokeWidth": 1, "strokeDash": [2, 1]},
     "encoding": {"x": {"field": "i", "type": "quantitative"}, "y": {"field": "v", "type": "quantitative"}}},
    {"data": {"values": [{"i":0.4,"v":72.6,"t":"TMSSlopeDxg-AUDUSDCHI(4) 63.5376 49.9464 36.3553 60.0346 58.6182   TDI Red Green(+0 angle) 63.5376 49.9464 36.3553 60.0346 58.6182"}]},
     "mark": {"type": "text", "align": "left", "baseline": "middle", "fontSize": 4.6, "color": "#d8d8d8"},
     "encoding": {"x": {"field": "i", "type": "quantitative"}, "y": {"field": "v", "type": "quantitative"}, "text": {"field": "t"}}},
    {"data": {"values": [{"i":186.4,"v":54.1,"t":"Current HA: 11/3/0"},{"i":186.4,"v":31.6,"t":"Prev. Slope: 7.1 (cross)"}]},
     "mark": {"type": "text", "align": "right", "baseline": "middle", "fontSize": 6.2, "fontWeight": "bold", "color": "#00e5ff"},
     "encoding": {"x": {"field": "i", "type": "quantitative"}, "y": {"field": "v", "type": "quantitative"}, "text": {"field": "t"}}},
    {"data": {"values": [{"i":186.4,"v":43.2,"t":"Cur. Slope: 0.6"}]},
     "mark": {"type": "text", "align": "right", "baseline": "middle", "fontSize": 6.2, "fontWeight": "bold", "color": "#ff1010"},
     "encoding": {"x": {"field": "i", "type": "quantitative"}, "y": {"field": "v", "type": "quantitative"}, "text": {"field": "t"}}}
  ]
}
]
}
